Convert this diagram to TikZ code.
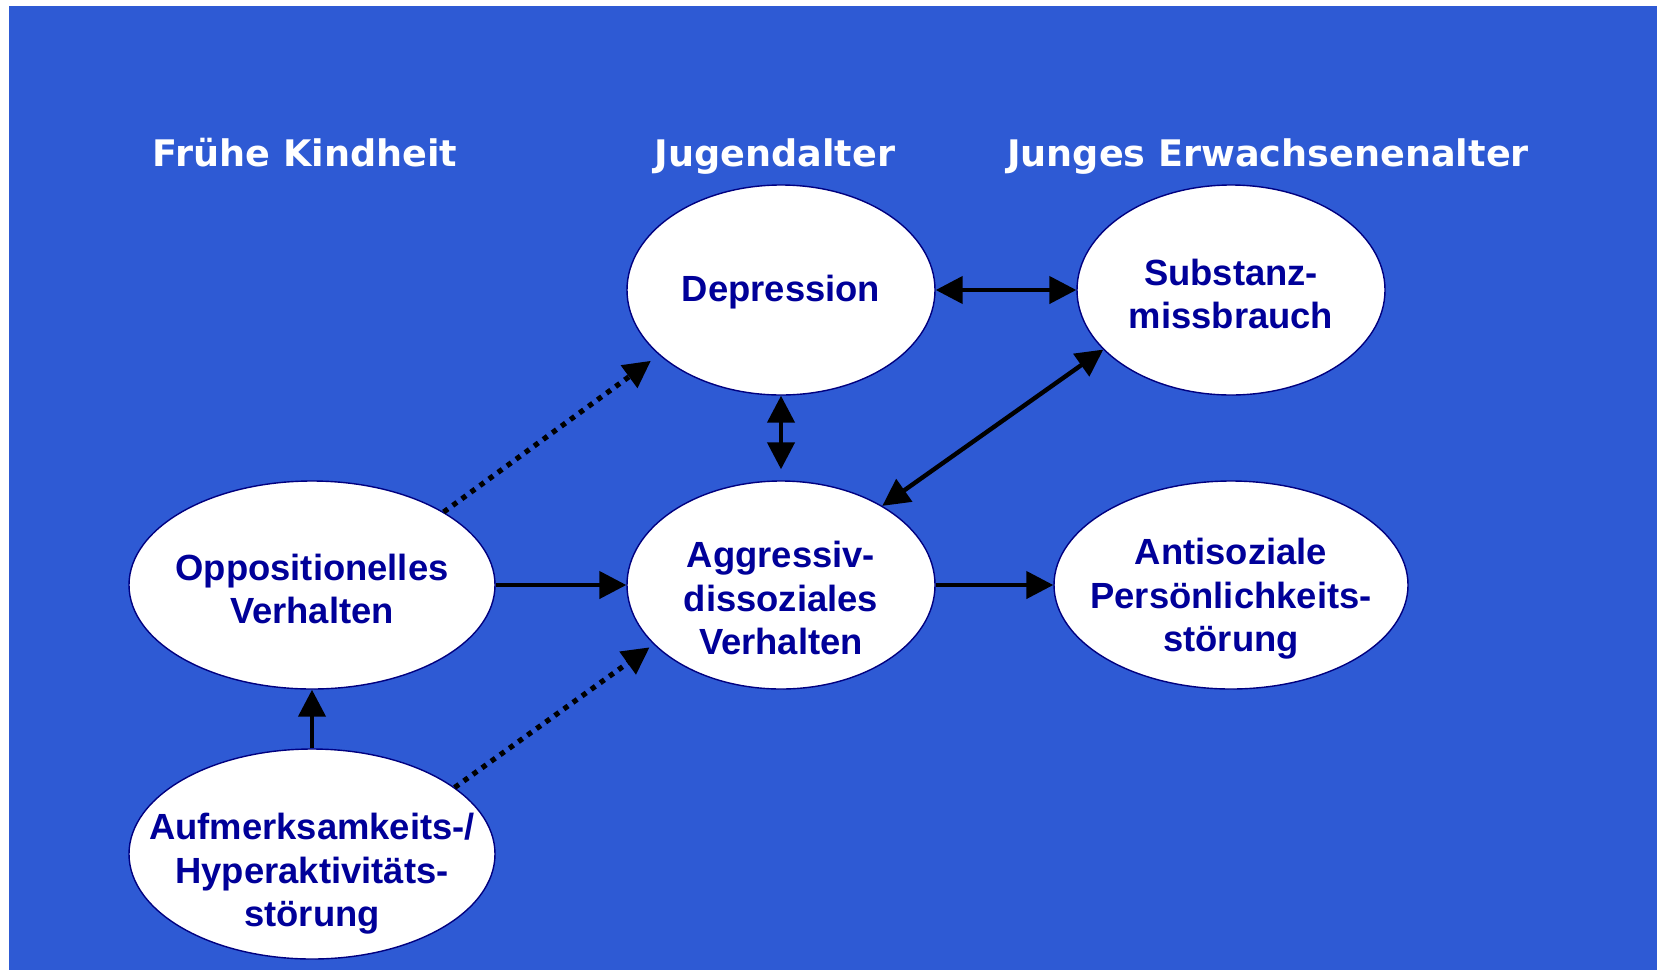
\documentclass[tikz,border=0pt]{standalone}
\usepackage{fontspec}
\setmainfont{Liberation Sans}
\newfontfamily\headfont{DejaVu Sans}
\usetikzlibrary{shapes.geometric,arrows.meta}
\definecolor{slideblue}{RGB}{46,90,212}
\definecolor{inkblue}{RGB}{0,0,153}
\definecolor{rimblue}{RGB}{0,0,128}

\begin{document}
\begin{tikzpicture}[x=0.5pt,y=0.5pt,yscale=-1,xscale=1,
	>={Triangle[length=13.5pt,width=13.5pt]},
	phase/.style={text=white,anchor=base,font=\headfont\bfseries\fontsize{18.3}{22}\selectfont},
	stage/.style 2 args={ellipse,draw=rimblue,line width=0.7pt,fill=white,inner sep=0pt,
		label={[text=inkblue,align=center,yshift=-#2,font=\bfseries\fontsize{18.2}{21.7}\selectfont]center:#1}},
	link/.style={line width=2.2pt,->},
	both/.style={line width=2.2pt,<->},
	maybe/.style={link,line width=2.6pt,dash pattern=on 2.6pt off 3pt}]
			\useasboundingbox (0,0) rectangle (1657,970);
			\fill[white] (0,0) rectangle (1657,970);
			\fill[slideblue] (9,6) rectangle (1657,970);
			
			\draw (305,166) node [phase] (early) {Frühe Kindheit};
			\draw (775,166) node [phase] (youth) {Jugendalter};
			\draw (1268,166) node [phase] (adult) {Junges Erwachsenenalter};
			
			\draw (781,290) node [stage={Depression}{1pt},minimum width=154pt,minimum height=105pt] (dep) {};
			\draw (1231,290) node [stage={Substanz-\\missbrauch}{2pt},minimum width=154pt,minimum height=105pt] (sub) {};
			\draw (312,585) node [stage={Oppositionelles\\Verhalten}{2pt},minimum width=183pt,minimum height=104pt] (opp) {};
			\draw (781,585) node [stage={Aggressiv-\\dissoziales\\Verhalten}{6.5pt},minimum width=154pt,minimum height=104pt] (agg) {};
			\draw (1231,585) node [stage={Antisoziale\\Persönlichkeits-\\störung}{7pt},minimum width=177pt,minimum height=104pt] (apd) {};
			\draw (312,854) node [stage={Aufmerksamkeits-/\\Hyperaktivitäts-\\störung}{10pt},minimum width=183pt,minimum height=105pt] (adhs) {};
			
			\draw [both] (dep) -- (sub);
			\draw [both,shorten >=5.5pt] (dep) -- (agg);
			\draw [both] (agg.38) -- (sub.205);
			\draw [link] (opp) -- (agg);
			\draw [link] (agg) -- (apd);
			\draw [link] (adhs) -- (opp);
			\draw [maybe,shorten >=5pt] (opp.29) -- (dep.208.6);
			\draw [maybe,shorten >=2.5pt] (adhs.25) -- (agg.205);
			\end{tikzpicture}
\end{document}
